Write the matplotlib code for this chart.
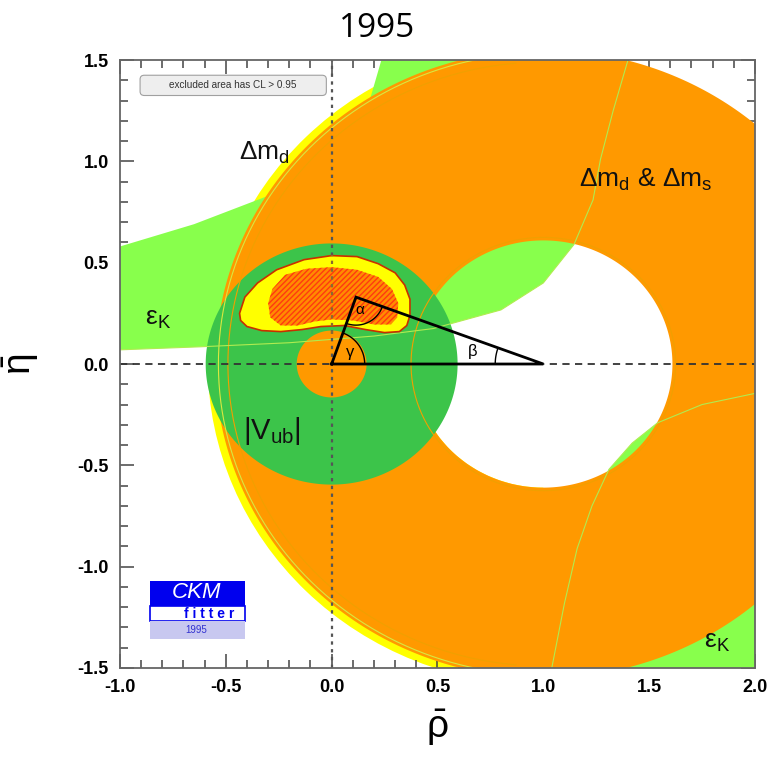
import numpy as np
import matplotlib
matplotlib.use("Agg")
import matplotlib.pyplot as plt
from matplotlib.path import Path
from matplotlib.patches import PathPatch, Polygon, Rectangle, FancyBboxPatch, Wedge

plt.rcParams["font.family"] = ["Liberation Sans", "DejaVu Sans"]
plt.rcParams["mathtext.fontset"] = "custom"
plt.rcParams["mathtext.rm"] = "Liberation Sans"
plt.rcParams["mathtext.it"] = "Liberation Sans:italic"
plt.rcParams["axes.unicode_minus"] = False

# --- constraints (rho-bar, eta-bar) ---
DM_CENTER = (1.0, 0.0)
DM_R_IN = 0.61            # Delta m_s hole
DM_R_OUT = 1.55           # Delta m_d & Delta m_s outer edge
DMD_R_OUT = 1.585         # Delta m_d alone (yellow, visible on the left only)
VUB_R_IN = 0.165
VUB_R_OUT = 0.595

# eps_K band, upper-left branch
EPSK_LO_RHO = [-1.0, -0.62, -0.2, 0.2, 0.48, 0.8, 1.0, 1.145, 1.235, 1.27, 1.33, 1.40]
EPSK_LO_ETA = [0.07, 0.085, 0.105, 0.138, 0.175, 0.267, 0.40, 0.59, 0.81, 1.01, 1.25, 1.50]
EPSK_UP_RHO = [-1.0, -0.65, -0.30, 0.0, 0.185, 0.235]
EPSK_UP_ETA = [0.58, 0.69, 0.83, 1.0, 1.32, 1.50]
# eps_K band, lower-right branch
EPSK_RB_RHO = [1.04, 1.10, 1.16, 1.23, 1.31, 1.42, 1.54, 1.75, 2.0]
EPSK_RB_ETA = [-1.5, -1.18, -0.91, -0.70, -0.52, -0.39, -0.29, -0.20, -0.145]

# global fit contour (CL 0.95 yellow, CL 0.68 hatched)
FIT95_RHO = [-0.435, -0.41, -0.35, -0.26, -0.13, 0.0, 0.12, 0.22, 0.30, 0.345, 0.37,
             0.37, 0.355, 0.32, 0.25, 0.16, 0.06, -0.05, -0.14, -0.24, -0.33, -0.40, -0.43]
FIT95_ETA = [0.25, 0.33, 0.40, 0.465, 0.515, 0.535, 0.53, 0.495, 0.45, 0.39, 0.32,
             0.24, 0.19, 0.16, 0.155, 0.17, 0.19, 0.185, 0.17, 0.16, 0.165, 0.185, 0.215]
FIT68_RHO = [-0.30, -0.28, -0.22, -0.12, 0.0, 0.12, 0.22, 0.285, 0.315, 0.31, 0.28,
             0.20, 0.10, 0.0, -0.08, -0.16, -0.24, -0.29]
FIT68_ETA = [0.30, 0.37, 0.44, 0.47, 0.478, 0.465, 0.43, 0.37, 0.30, 0.23, 0.195,
             0.195, 0.215, 0.22, 0.21, 0.19, 0.19, 0.23]

APEX = (0.115, 0.33)

ORANGE = "#ff9900"
YELLOW = "#ffff00"
LGREEN = "#88ff4c"
DGREEN = "#3cc44a"


def ring(center, r_in, r_out, **kw):
    t = np.linspace(0, 2 * np.pi, 400)
    cx, cy = center
    outer = np.column_stack([cx + r_out * np.cos(t), cy + r_out * np.sin(t)])
    inner = np.column_stack([cx + r_in * np.cos(t[::-1]), cy + r_in * np.sin(t[::-1])])
    verts = np.vstack([outer, inner])
    codes = np.full(len(verts), Path.LINETO)
    codes[0] = Path.MOVETO
    codes[len(outer)] = Path.MOVETO
    return PathPatch(Path(verts, codes), **kw)


def circle_line(ax, center, r, a1=0, a2=360, **kw):
    t = np.radians(np.linspace(a1, a2, 400))
    ax.plot(center[0] + r * np.cos(t), center[1] + r * np.sin(t), **kw)


fig = plt.figure(figsize=(7.7, 7.59), dpi=100)
ax = fig.add_axes([0.1558, 0.1199, 0.8247, 0.801])
ax.set_xlim(-1.0, 2.0)
ax.set_ylim(-1.5, 1.5)

# Delta m_d alone (yellow)
ax.add_patch(Wedge(DM_CENTER, DMD_R_OUT, 90, 270, width=DMD_R_OUT - DM_R_IN,
                   facecolor=YELLOW, edgecolor="none", zorder=1))

# eps_K band
up = list(zip(EPSK_LO_RHO, EPSK_LO_ETA)) + list(zip(EPSK_UP_RHO, EPSK_UP_ETA))[::-1]
ax.add_patch(Polygon(up, closed=True, facecolor=LGREEN, edgecolor="none", zorder=2))
rb = list(zip(EPSK_RB_RHO, EPSK_RB_ETA)) + [(2.0, -1.5)]
ax.add_patch(Polygon(rb, closed=True, facecolor=LGREEN, edgecolor="none", zorder=2))

# Delta m_d & Delta m_s (orange)
ax.add_patch(ring(DM_CENTER, DM_R_IN, DM_R_OUT, facecolor=ORANGE, edgecolor="none", zorder=3))

# |Vub|
ax.add_patch(ring((0.0, 0.0), VUB_R_IN, VUB_R_OUT, facecolor=DGREEN, edgecolor="none", zorder=4))

# thin contour lines on top
circle_line(ax, DM_CENTER, 1.535, 95, 265, color="#d8e840", lw=0.8, zorder=5)
circle_line(ax, DM_CENTER, 1.49, 95, 265, color="#f0a000", lw=0.8, zorder=5)
circle_line(ax, DM_CENTER, 0.625, color="#f0a000", lw=0.8, zorder=5)
ax.plot(EPSK_LO_RHO, EPSK_LO_ETA, color="#b0ec50", lw=0.8, zorder=5)
ax.plot(EPSK_RB_RHO, EPSK_RB_ETA, color="#b0ec50", lw=0.8, zorder=5)

# reference axes lines
ax.axhline(0, color="#333333", lw=1.3, ls=(0, (4, 3)), zorder=6)
ax.axvline(0, color="#555555", lw=1.6, ls=(0, (1.5, 2)), zorder=6)

# fit contours
ax.add_patch(Polygon(list(zip(FIT95_RHO, FIT95_ETA)), closed=True, facecolor=YELLOW,
                     edgecolor="#c83000", lw=1.2, zorder=7))
plt.rcParams["hatch.linewidth"] = 1.0
ax.add_patch(Polygon(list(zip(FIT68_RHO, FIT68_ETA)), closed=True, facecolor="#ff8c00",
                     edgecolor="#ff3a10", hatch="//////", lw=0, zorder=8))
ax.axvline(0, ymin=0.55, ymax=0.68, color="#8a6a30", lw=1.6, ls=(0, (1.5, 2)), zorder=8.5)

# unitarity triangle
ax.plot([0, APEX[0], 1, 0], [0, APEX[1], 0, 0], color="black", lw=2.0, zorder=9,
        solid_joinstyle="miter")

sx, sy = 211.3, 202.7  # px per unit along rho / eta


def arc(ax, c, r_px, a1, a2):
    t = np.radians(np.linspace(a1, a2, 40))
    ax.plot(c[0] + r_px * np.cos(t) / sx, c[1] + r_px * np.sin(t) / sy,
            color="black", lw=1.0, zorder=9)


ang_a = np.degrees(np.arctan2(APEX[1] * sy, APEX[0] * sx))
ang_b = np.degrees(np.arctan2(APEX[1] * sy, (APEX[0] - 1) * sx))
arc(ax, (0, 0), 33, 0, ang_a)
arc(ax, APEX, 28, 180 + ang_a, 360 + np.degrees(np.arctan2(-APEX[1] * sy, (1 - APEX[0]) * sx)))
arc(ax, (1, 0), 48, ang_b, 180)
ax.text(0.085, 0.055, "γ", fontsize=12, ha="center", va="center", zorder=10)
ax.text(0.135, 0.265, "α", fontsize=11, ha="center", va="center", zorder=10)
ax.text(0.665, 0.06, "β", fontsize=12, ha="center", va="center", zorder=10)

# constraint labels
lab = dict(fontsize=19, color="#111111", zorder=10)
ax.text(-0.44, 1.04, r"$\Delta\mathrm{m}_\mathrm{d}$", ha="left", va="center", **lab)
ax.text(1.17, 0.91, r"$\Delta\mathrm{m}_\mathrm{d}$ & $\Delta\mathrm{m}_\mathrm{s}$",
        ha="left", va="center", **lab)
ax.text(-0.88, 0.22, r"$\mathrm{ε}_\mathrm{K}$", ha="left", va="center", **lab)
ax.text(1.76, -1.37, r"$\mathrm{ε}_\mathrm{K}$", ha="left", va="center", **lab)
ax.text(-0.42, -0.33, r"$|\mathrm{V}_\mathrm{ub}|$", ha="left", va="center", fontsize=21,
        color="#111111", zorder=10)

# CL box
ax.add_patch(FancyBboxPatch((-0.9, 1.33), 0.87, 0.09, boxstyle="round,pad=0.005,rounding_size=0.02",
                            facecolor="#eeeeee", edgecolor="#a0a0a0", lw=0.8, zorder=10))
ax.text(-0.465, 1.375, "excluded area has CL > 0.95", fontsize=7.2, color="#333333",
        ha="center", va="center", zorder=11)

# CKMfitter logo
ax.add_patch(Rectangle((-0.857, -1.193), 0.449, 0.124, facecolor="#0000ee", edgecolor="none", zorder=10))
ax.add_patch(Rectangle((-0.857, -1.267), 0.449, 0.074, facecolor="white", edgecolor="#0000ee",
                       lw=1.2, zorder=10))
ax.add_patch(Rectangle((-0.857, -1.356), 0.449, 0.089, facecolor="#c8c8f0", edgecolor="none", zorder=10))
ax.text(-0.64, -1.128, "CKM", fontsize=16, color="white", style="italic", ha="center",
        va="center", zorder=11)
ax.text(-0.58, -1.232, "f i t t e r", fontsize=10, color="#0000ee", fontweight="bold",
        ha="center", va="center", zorder=11)
ax.text(-0.64, -1.312, "1995", fontsize=7, color="#3030d0", ha="center", va="center", zorder=11)

# axes styling
ax.set_xticks(np.arange(-1.0, 2.01, 0.5))
ax.set_yticks(np.arange(-1.5, 1.51, 0.5))
ax.set_xticks(np.arange(-1.0, 2.01, 0.1), minor=True)
ax.set_yticks(np.arange(-1.5, 1.51, 0.1), minor=True)
ax.xaxis.set_major_formatter(matplotlib.ticker.FormatStrFormatter("%.1f"))
ax.yaxis.set_major_formatter(matplotlib.ticker.FormatStrFormatter("%.1f"))
ax.tick_params(which="both", direction="in", top=True, right=True, color="#444444", width=1.1)
ax.tick_params(which="major", length=10, labelsize=13, pad=8)
ax.tick_params(which="minor", length=5.5)
for lbl in ax.get_xticklabels() + ax.get_yticklabels():
    lbl.set_fontweight("bold")
for sp in ax.spines.values():
    sp.set_color("#666666")
    sp.set_linewidth(1.3)
    sp.set_zorder(12)

ax.set_xlabel(r"$\bar{\mathrm{\rho}}$", fontsize=28, labelpad=8)
ax.set_ylabel(r"$\bar{\mathrm{\eta}}$", fontsize=28, labelpad=26)

fig.text(0.49, 0.962, "1995", fontsize=24, ha="center", va="center", family="Open Sans")

fig.savefig("out.png", dpi=100)
